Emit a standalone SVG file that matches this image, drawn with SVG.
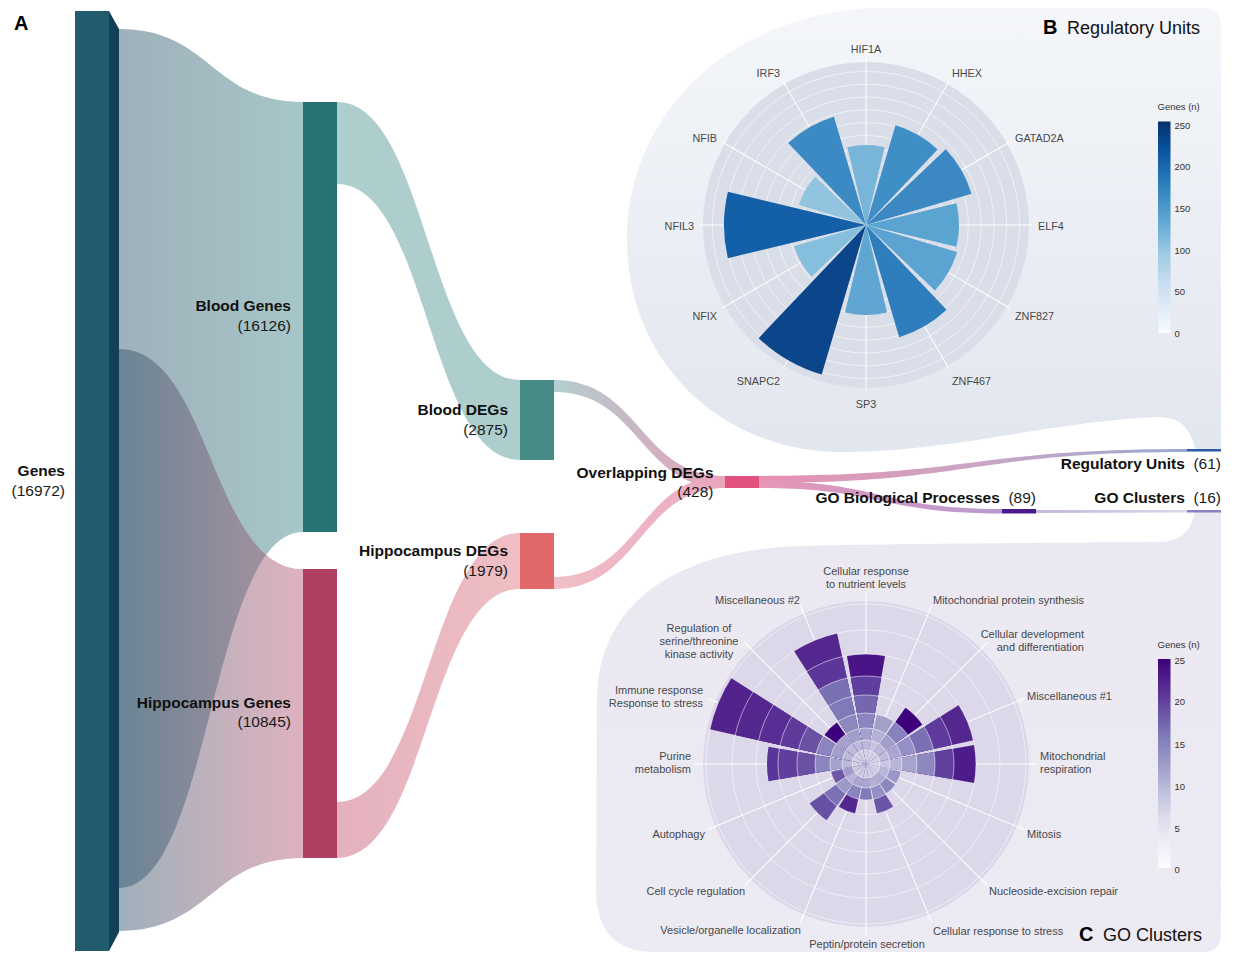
<svg xmlns="http://www.w3.org/2000/svg" width="1239" height="954" viewBox="0 0 1239 954">
<defs>
<linearGradient id="gB" x1="0" y1="0" x2="0" y2="1"><stop offset="0" stop-color="#f4f6fa"/><stop offset="1" stop-color="#e2e6ee"/></linearGradient>
<linearGradient id="gC" x1="0" y1="0" x2="0" y2="1"><stop offset="0" stop-color="#ebe8f2"/><stop offset="1" stop-color="#eceaf3"/></linearGradient>
<linearGradient id="blues" x1="0" y1="0" x2="0" y2="1"><stop offset="0" stop-color="#08306b"/><stop offset="0.125" stop-color="#08519c"/><stop offset="0.25" stop-color="#2171b5"/><stop offset="0.375" stop-color="#4292c6"/><stop offset="0.5" stop-color="#6baed6"/><stop offset="0.625" stop-color="#9ecae1"/><stop offset="0.75" stop-color="#c6dbef"/><stop offset="0.875" stop-color="#deebf7"/><stop offset="1" stop-color="#f7fbff"/></linearGradient>
<linearGradient id="purples" x1="0" y1="0" x2="0" y2="1"><stop offset="0" stop-color="#3f007d"/><stop offset="0.125" stop-color="#54278f"/><stop offset="0.25" stop-color="#6a51a3"/><stop offset="0.375" stop-color="#807dba"/><stop offset="0.5" stop-color="#9e9ac8"/><stop offset="0.625" stop-color="#bcbddc"/><stop offset="0.75" stop-color="#dadaeb"/><stop offset="0.875" stop-color="#efedf5"/><stop offset="1" stop-color="#fcfbfd"/></linearGradient>
<linearGradient id="fBlood" gradientUnits="userSpaceOnUse" x1="119" y1="0" x2="303" y2="0"><stop offset="0" stop-color="#2a5068"/><stop offset="1" stop-color="#3a8284"/></linearGradient>
<linearGradient id="fHippo" gradientUnits="userSpaceOnUse" x1="119" y1="0" x2="303" y2="0"><stop offset="0" stop-color="#2a5068"/><stop offset="1" stop-color="#b85470"/></linearGradient>
<linearGradient id="fHG" gradientUnits="userSpaceOnUse" x1="337" y1="0" x2="520" y2="0"><stop offset="0" stop-color="#e4b1be"/><stop offset="1" stop-color="#efbfc3"/></linearGradient>
<linearGradient id="fBD" gradientUnits="userSpaceOnUse" x1="554" y1="0" x2="725" y2="0"><stop offset="0" stop-color="#b3cfcf"/><stop offset="0.5" stop-color="#cbb5c3"/><stop offset="1" stop-color="#e8a3ba"/></linearGradient>
<linearGradient id="fHD" gradientUnits="userSpaceOnUse" x1="554" y1="0" x2="725" y2="0"><stop offset="0" stop-color="#efbcc4"/><stop offset="1" stop-color="#eaa5bc"/></linearGradient>
<linearGradient id="fRU" gradientUnits="userSpaceOnUse" x1="759" y1="0" x2="1187" y2="0"><stop offset="0" stop-color="#e790b1"/><stop offset="0.5" stop-color="#caa6c3"/><stop offset="1" stop-color="#9aa9d0"/></linearGradient>
<linearGradient id="fGO" gradientUnits="userSpaceOnUse" x1="759" y1="0" x2="1002" y2="0"><stop offset="0" stop-color="#e797b7"/><stop offset="1" stop-color="#b79ad0"/></linearGradient>
<linearGradient id="fGC" gradientUnits="userSpaceOnUse" x1="1036" y1="0" x2="1187" y2="0"><stop offset="0" stop-color="#c4b6dd"/><stop offset="1" stop-color="#ddd6ec"/></linearGradient>
<path id="c14" d="M0,0 L-2.431,-13.787 A14,14 0 0 1 2.431,-13.787 Z"/>
<path id="c24" d="M0,0 L-4.168,-23.635 A24,24 0 0 1 4.168,-23.635 Z"/>
<path id="c36" d="M0,0 L-6.251,-35.453 A36,36 0 0 1 6.251,-35.453 Z"/>
<path id="c51" d="M0,0 L-8.856,-50.225 A51,51 0 0 1 8.856,-50.225 Z"/>
<path id="c69" d="M0,0 L-11.982,-67.952 A69,69 0 0 1 11.982,-67.952 Z"/>
<path id="c88" d="M0,0 L-15.281,-86.663 A88,88 0 0 1 15.281,-86.663 Z"/>
<path id="c99" d="M0,0 L-17.191,-97.496 A99,99 0 0 1 17.191,-97.496 Z"/>
<path id="c110" d="M0,0 L-19.102,-108.329 A110,110 0 0 1 19.102,-108.329 Z"/>
<path id="c134" d="M0,0 L-23.269,-131.965 A134,134 0 0 1 23.269,-131.965 Z"/>
<path id="c160" d="M0,0 L-27.784,-157.570 A160,160 0 0 1 27.784,-157.570 Z"/>
</defs>
<style>
text { font-family: "Liberation Sans", Arial, Helvetica, sans-serif; }
.nl { font-size: 15.5px; font-weight: bold; fill: #111; }
.nv { font-size: 15.5px; fill: #1a1a1a; }
.pl { font-size: 10.8px; fill: #484848; }
.gl { font-size: 11px; fill: #484848; }
.cb { font-size: 9.5px; fill: #333; }
.ttl { font-size: 18px; fill: #111; }
.ltr { font-size: 20px; font-weight: bold; fill: #000; }
.spk { stroke: #ffffff; stroke-width: 1; }
.ringB { fill: none; stroke: #ffffff; stroke-width: 0.8; stroke-opacity: 0.7; }
.ringC { fill: none; stroke: #ffffff; stroke-width: 0.8; stroke-opacity: 0.65; }
</style>
<rect width="1239" height="954" fill="#ffffff"/>

<!-- Panel backgrounds -->
<g id="panel-b-bg">
<path d="M 870,8 L 1203,8 Q 1221,8 1221,26 L 1221,449 L 1195,449 C 1191,430 1182,418 1160,417 C 1060,420 960,450 850,452 C 720,455 627,360 627,240 C 627,120 720,18 870,8 Z" fill="url(#gB)"/>
</g>
<g id="panel-c-bg">
<path d="M 1221,512 L 1195,512 C 1191,530 1182,541 1160,542 C 1000,543 880,544 800,546 C 680,550 598,600 597,700 L 596,890 C 596,930 615,952 655,952 L 1203,952 Q 1221,952 1221,934 Z" fill="url(#gC)"/>
</g>

<!-- Panel B: polar chart of regulatory units -->
<g id="polar-b" transform="translate(866,225)">
<circle r="163" fill="#d9dee8"/>
<g class="ringB">
<circle r="12.8"/><circle r="25.6"/><circle r="38.4"/><circle r="51.2"/><circle r="64"/><circle r="76.8"/><circle r="89.6"/><circle r="102.4"/><circle r="115.2"/><circle r="128"/><circle r="140.8"/><circle r="153.6"/>
</g>
<g class="spk">
<line x1="0" y1="0" x2="0" y2="-166"/>
<line x1="0" y1="0" x2="0" y2="-166" transform="rotate(30)"/>
<line x1="0" y1="0" x2="0" y2="-166" transform="rotate(60)"/>
<line x1="0" y1="0" x2="0" y2="-166" transform="rotate(90)"/>
<line x1="0" y1="0" x2="0" y2="-166" transform="rotate(120)"/>
<line x1="0" y1="0" x2="0" y2="-166" transform="rotate(150)"/>
<line x1="0" y1="0" x2="0" y2="-166" transform="rotate(180)"/>
<line x1="0" y1="0" x2="0" y2="-166" transform="rotate(210)"/>
<line x1="0" y1="0" x2="0" y2="-166" transform="rotate(240)"/>
<line x1="0" y1="0" x2="0" y2="-166" transform="rotate(270)"/>
<line x1="0" y1="0" x2="0" y2="-166" transform="rotate(300)"/>
<line x1="0" y1="0" x2="0" y2="-166" transform="rotate(330)"/>
</g>
<path id="bar-HIF1A" d="M0,0 L-18.676,-77.79 A80,80 0 0 1 18.676,-77.79 Z" fill="#79b4d9"/>
<path id="bar-HHEX" d="M0,0 L-24.279,-101.126 A104,104 0 0 1 24.279,-101.126 Z" transform="rotate(30)" fill="#3f8fc6"/>
<path id="bar-GATAD2A" d="M0,0 L-25.68,-106.961 A110,110 0 0 1 25.68,-106.961 Z" transform="rotate(60)" fill="#3b88c3"/>
<path id="bar-ELF4" d="M0,0 L-21.711,-90.43 A93,93 0 0 1 21.711,-90.43 Z" transform="rotate(90)" fill="#5aa4d2"/>
<path id="bar-ZNF827" d="M0,0 L-22.178,-92.375 A95,95 0 0 1 22.178,-92.375 Z" transform="rotate(120)" fill="#5ba3d1"/>
<path id="bar-ZNF467" d="M0,0 L-27.314,-113.767 A117,117 0 0 1 27.314,-113.767 Z" transform="rotate(150)" fill="#2e7ebd"/>
<path id="bar-SP3" d="M0,0 L-21.011,-87.513 A90,90 0 0 1 21.011,-87.513 Z" transform="rotate(180)" fill="#5fa6d2"/>
<path id="bar-SNAPC2" d="M0,0 L-36.418,-151.69 A156,156 0 0 1 36.418,-151.69 Z" transform="rotate(210)" fill="#0b468a"/>
<path id="bar-NFIX" d="M0,0 L-17.509,-72.928 A75,75 0 0 1 17.509,-72.928 Z" transform="rotate(240)" fill="#86bede"/>
<path id="bar-NFIL3" d="M0,0 L-33.15,-138.077 A142,142 0 0 1 33.15,-138.077 Z" transform="rotate(270)" fill="#1360a8"/>
<path id="bar-NFIB" d="M0,0 L-16.342,-68.066 A70,70 0 0 1 16.342,-68.066 Z" transform="rotate(300)" fill="#92c4df"/>
<path id="bar-IRF3" d="M0,0 L-26.38,-109.878 A113,113 0 0 1 26.38,-109.878 Z" transform="rotate(330)" fill="#3c8ac4"/>
</g>
<g id="polar-b-labels" class="pl">
<text x="866" y="52.5" text-anchor="middle">HIF1A</text>
<text x="952" y="77" >HHEX</text>
<text x="1015" y="142">GATAD2A</text>
<text x="1038" y="230">ELF4</text>
<text x="1015" y="320">ZNF827</text>
<text x="952" y="385">ZNF467</text>
<text x="866" y="408" text-anchor="middle">SP3</text>
<text x="780" y="385" text-anchor="end">SNAPC2</text>
<text x="717" y="320" text-anchor="end">NFIX</text>
<text x="694" y="230" text-anchor="end">NFIL3</text>
<text x="717" y="142" text-anchor="end">NFIB</text>
<text x="780" y="77" text-anchor="end">IRF3</text>
</g>
<g id="colorbar-b">
<text class="cb" x="1157.5" y="110">Genes (n)</text>
<rect x="1158" y="121.5" width="12.5" height="211.5" fill="url(#blues)"/>
<g class="cb">
<text x="1174.5" y="128.5">250</text>
<text x="1174.5" y="170">200</text>
<text x="1174.5" y="212">150</text>
<text x="1174.5" y="253.5">100</text>
<text x="1174.5" y="295">50</text>
<text x="1174.5" y="337">0</text>
</g>
</g>
<g id="title-b">
<text class="ltr" x="1043" y="34">B</text>
<text class="ttl" x="1067" y="34">Regulatory Units</text>
</g>

<!-- Panel C: polar chart of GO clusters -->
<g id="polar-c" transform="translate(866,764)">
<circle r="163" fill="#dcd7e9"/>
<g class="spk">
<line x1="0" y1="0" x2="0" y2="-172"/>
<line x1="0" y1="0" x2="0" y2="-172" transform="rotate(22.5)"/>
<line x1="0" y1="0" x2="0" y2="-172" transform="rotate(45)"/>
<line x1="0" y1="0" x2="0" y2="-172" transform="rotate(67.5)"/>
<line x1="0" y1="0" x2="0" y2="-172" transform="rotate(90)"/>
<line x1="0" y1="0" x2="0" y2="-172" transform="rotate(112.5)"/>
<line x1="0" y1="0" x2="0" y2="-172" transform="rotate(135)"/>
<line x1="0" y1="0" x2="0" y2="-172" transform="rotate(157.5)"/>
<line x1="0" y1="0" x2="0" y2="-172" transform="rotate(180)"/>
<line x1="0" y1="0" x2="0" y2="-172" transform="rotate(202.5)"/>
<line x1="0" y1="0" x2="0" y2="-172" transform="rotate(225)"/>
<line x1="0" y1="0" x2="0" y2="-172" transform="rotate(247.5)"/>
<line x1="0" y1="0" x2="0" y2="-172" transform="rotate(270)"/>
<line x1="0" y1="0" x2="0" y2="-172" transform="rotate(292.5)"/>
<line x1="0" y1="0" x2="0" y2="-172" transform="rotate(315)"/>
<line x1="0" y1="0" x2="0" y2="-172" transform="rotate(337.5)"/>
</g>
<g id="bar-nutrient"><use href="#c110" fill="#4a1486"/><use href="#c88" fill="#5e3f9d"/><use href="#c69" fill="#7467af"/><use href="#c51" fill="#8c86c0"/><use href="#c36" fill="#a5a1cd"/><use href="#c24" fill="#bcb9da"/><use href="#c14" fill="#d3d0e6"/></g>
<g id="bar-mitoprot" transform="rotate(22.5)"><use href="#c51" fill="#a39fcb"/><use href="#c36" fill="#b4b0d6"/><use href="#c24" fill="#c7c4e0"/><use href="#c14" fill="#d8d5e9"/></g>
<g id="bar-celldev" transform="rotate(45)"><use href="#c69" fill="#3f007d"/><use href="#c51" fill="#8781bd"/><use href="#c36" fill="#a29ecb"/><use href="#c24" fill="#bdb9da"/><use href="#c14" fill="#d6d3e7"/></g>
<g id="bar-misc1" transform="rotate(67.5)"><use href="#c110" fill="#54278f"/><use href="#c88" fill="#5d3a9b"/><use href="#c69" fill="#7a70b5"/><use href="#c51" fill="#9590c5"/><use href="#c36" fill="#aaa6d1"/><use href="#c24" fill="#c0bddc"/><use href="#c14" fill="#d6d3e7"/></g>
<g id="bar-mitoresp" transform="rotate(90)"><use href="#c110" fill="#4d1c8a"/><use href="#c88" fill="#603f9e"/><use href="#c69" fill="#8e88c1"/><use href="#c51" fill="#a7a3cf"/><use href="#c36" fill="#b8b5d8"/><use href="#c24" fill="#c9c6e1"/><use href="#c14" fill="#d9d6ea"/></g>
<g id="bar-mitosis" transform="rotate(112.5)"><use href="#c36" fill="#9b97c8"/><use href="#c24" fill="#b8b5d8"/><use href="#c14" fill="#d3d0e6"/></g>
<g id="bar-ner" transform="rotate(135)"><use href="#c36" fill="#8d87c0"/><use href="#c24" fill="#aeaad3"/><use href="#c14" fill="#cfcce4"/></g>
<g id="bar-stress" transform="rotate(157.5)"><use href="#c51" fill="#6a55a6"/><use href="#c36" fill="#9490c5"/><use href="#c24" fill="#b4b0d6"/><use href="#c14" fill="#d1cee5"/></g>
<g id="bar-peptin" transform="rotate(180)"><use href="#c36" fill="#807ab9"/><use href="#c24" fill="#a9a5d0"/><use href="#c14" fill="#cdcae3"/></g>
<g id="bar-vesicle" transform="rotate(202.5)"><use href="#c51" fill="#54278f"/><use href="#c36" fill="#8a84bf"/><use href="#c24" fill="#aba7d1"/><use href="#c14" fill="#cecbe4"/></g>
<g id="bar-cellcycle" transform="rotate(225)"><use href="#c69" fill="#6650a4"/><use href="#c51" fill="#7b72b6"/><use href="#c36" fill="#9c98c8"/><use href="#c24" fill="#b9b6d9"/><use href="#c14" fill="#d3d0e6"/></g>
<g id="bar-autophagy" transform="rotate(247.5)"><use href="#c36" fill="#6d58a8"/><use href="#c24" fill="#9f9bca"/><use href="#c14" fill="#c9c6e1"/></g>
<g id="bar-purine" transform="rotate(270)"><use href="#c99" fill="#5a3599"/><use href="#c88" fill="#5e3f9d"/><use href="#c69" fill="#6a51a3"/><use href="#c51" fill="#8c86c0"/><use href="#c36" fill="#a6a2ce"/><use href="#c24" fill="#bdb9da"/><use href="#c14" fill="#d4d1e6"/></g>
<g id="bar-immune" transform="rotate(292.5)"><use href="#c160" fill="#52238d"/><use href="#c134" fill="#54278f"/><use href="#c110" fill="#582e94"/><use href="#c88" fill="#5e3a9a"/><use href="#c69" fill="#6a51a3"/><use href="#c51" fill="#8a84bf"/><use href="#c36" fill="#a29ecb"/><use href="#c24" fill="#bcb9da"/><use href="#c14" fill="#d3d0e6"/></g>
<g id="bar-regulation" transform="rotate(315)"><use href="#c51" fill="#3f007d"/><use href="#c36" fill="#a6a2ce"/><use href="#c24" fill="#bfbcdb"/><use href="#c14" fill="#d6d3e7"/></g>
<g id="bar-misc2" transform="rotate(337.5)"><use href="#c134" fill="#54278f"/><use href="#c110" fill="#5b3799"/><use href="#c88" fill="#7a71b5"/><use href="#c69" fill="#817ab9"/><use href="#c51" fill="#8d88c0"/><use href="#c36" fill="#a29ecb"/><use href="#c24" fill="#bdb9da"/><use href="#c14" fill="#d4d1e6"/></g>
<g class="ringC">
<circle r="14"/><circle r="24"/><circle r="36"/><circle r="51"/><circle r="69"/><circle r="88"/><circle r="110"/><circle r="134"/><circle r="160"/>
</g>
</g>
<g id="polar-c-labels" class="gl">
<text x="866" y="575" text-anchor="middle">Cellular response</text>
<text x="866" y="588" text-anchor="middle">to nutrient levels</text>
<text x="933" y="603.5">Mitochondrial protein synthesis</text>
<text x="1084" y="638" text-anchor="end">Cellular development</text>
<text x="1084" y="651" text-anchor="end">and differentiation</text>
<text x="1027" y="700">Miscellaneous #1</text>
<text x="1040" y="760">Mitochondrial</text>
<text x="1040" y="773">respiration</text>
<text x="1027" y="837.5">Mitosis</text>
<text x="989" y="895">Nucleoside-excision repair</text>
<text x="933" y="935">Cellular response to stress</text>
<text x="867" y="947.5" text-anchor="middle">Peptin/protein secretion</text>
<text x="801" y="933.5" text-anchor="end">Vesicle/organelle localization</text>
<text x="745" y="895" text-anchor="end">Cell cycle regulation</text>
<text x="705" y="837.5" text-anchor="end">Autophagy</text>
<text x="691" y="759.5" text-anchor="end">Purine</text>
<text x="691" y="772.5" text-anchor="end">metabolism</text>
<text x="703" y="694" text-anchor="end">Immune response</text>
<text x="703" y="707" text-anchor="end">Response to stress</text>
<text x="699" y="632" text-anchor="middle">Regulation of</text>
<text x="699" y="645" text-anchor="middle">serine/threonine</text>
<text x="699" y="658" text-anchor="middle">kinase activity</text>
<text x="800" y="603.5" text-anchor="end">Miscellaneous #2</text>
</g>
<g id="colorbar-c">
<text class="cb" x="1157.5" y="647.5">Genes (n)</text>
<rect x="1158" y="659" width="12.5" height="209" fill="url(#purples)"/>
<g class="cb">
<text x="1174.5" y="663.5">25</text>
<text x="1174.5" y="705">20</text>
<text x="1174.5" y="747.5">15</text>
<text x="1174.5" y="789.5">10</text>
<text x="1174.5" y="831.5">5</text>
<text x="1174.5" y="873">0</text>
</g>
</g>
<g id="title-c">
<text class="ltr" x="1079" y="941">C</text>
<text class="ttl" x="1103" y="941">GO Clusters</text>
</g>

<!-- Sankey connectors -->
<g id="connectors">
<path d="M119,29 C211,29 211,102 303,102 L303,532 C211,532 211,888 119,888 Z" fill="url(#fBlood)" fill-opacity="0.45"/>
<path d="M119,349 C211,349 211,569 303,569 L303,858 C211,858 211,931 119,931 Z" fill="url(#fHippo)" fill-opacity="0.45"/>
<path d="M337,102 C428,102 428,380 520,380 L520,460 C428,460 428,184 337,184 Z" fill="#aecdcd"/>
<path d="M337,802 C428,802 428,533 520,533 L520,589 C428,589 428,858 337,858 Z" fill="url(#fHG)"/>
<path d="M554,380 C640,380 640,476 725,476 L725,488 C640,488 640,392 554,392 Z" fill="url(#fBD)"/>
<path d="M554,577 C640,577 640,476 725,476 L725,488 C640,488 640,589 554,589 Z" fill="url(#fHD)" fill-opacity="0.95"/>
<path d="M759,476 C973,476 973,449 1187,449 L1187,452 C973,452 973,483 759,483 Z" fill="url(#fRU)"/>
<path d="M759,481 C880,481 880,509 1002,509 L1002,513.5 C880,513.5 880,488 759,488 Z" fill="url(#fGO)"/>
<path d="M1036,510 L1187,510 L1187,512.5 L1036,513 Z" fill="url(#fGC)"/>
</g>

<!-- Sankey nodes -->
<g id="node-genes">
<rect x="75" y="11" width="34" height="940" fill="#225b6e"/>
<polygon points="109,11 119,29 119,932 109,951" fill="#133f58"/>
<text class="nl" x="65" y="476" text-anchor="end">Genes</text>
<text class="nv" x="65" y="495.5" text-anchor="end">(16972)</text>
</g>
<g id="node-blood-genes">
<rect x="303" y="102" width="34" height="430" fill="#277373"/>
<text class="nl" x="291" y="311" text-anchor="end">Blood Genes</text>
<text class="nv" x="291" y="330.5" text-anchor="end">(16126)</text>
</g>
<g id="node-hippocampus-genes">
<rect x="303" y="569" width="34" height="289" fill="#b03e60"/>
<text class="nl" x="291" y="707.5" text-anchor="end">Hippocampus Genes</text>
<text class="nv" x="291" y="727" text-anchor="end">(10845)</text>
</g>
<g id="node-blood-degs">
<rect x="520" y="380" width="34" height="80" fill="#468b86"/>
<text class="nl" x="508" y="415" text-anchor="end">Blood DEGs</text>
<text class="nv" x="508" y="434.5" text-anchor="end">(2875)</text>
</g>
<g id="node-hippocampus-degs">
<rect x="520" y="533" width="34" height="56" fill="#e0686a"/>
<text class="nl" x="508" y="556" text-anchor="end">Hippocampus DEGs</text>
<text class="nv" x="508" y="575.5" text-anchor="end">(1979)</text>
</g>
<g id="node-overlapping-degs">
<rect x="725" y="476" width="34" height="12" fill="#e3517f"/>
<text class="nl" x="713.5" y="477.5" text-anchor="end">Overlapping DEGs</text>
<text class="nv" x="713.5" y="496.5" text-anchor="end">(428)</text>
</g>
<g id="node-go-bp">
<rect x="1002" y="509" width="34" height="4.5" fill="#4a1a8c"/>
<text x="1036" y="503" text-anchor="end"><tspan class="nl">GO Biological Processes</tspan><tspan class="nv">&#160; (89)</tspan></text>
</g>
<g id="node-regulatory-units">
<rect x="1187" y="449" width="34" height="2.5" fill="#2b5aa0"/>
<text x="1221" y="469" text-anchor="end"><tspan class="nl">Regulatory Units</tspan><tspan class="nv">&#160; (61)</tspan></text>
</g>
<g id="node-go-clusters">
<rect x="1187" y="510" width="34" height="2.5" fill="#8d7fc2"/>
<text x="1221" y="503" text-anchor="end"><tspan class="nl">GO Clusters</tspan><tspan class="nv">&#160; (16)</tspan></text>
</g>
<text class="ltr" x="14" y="29.5">A</text>
</svg>
